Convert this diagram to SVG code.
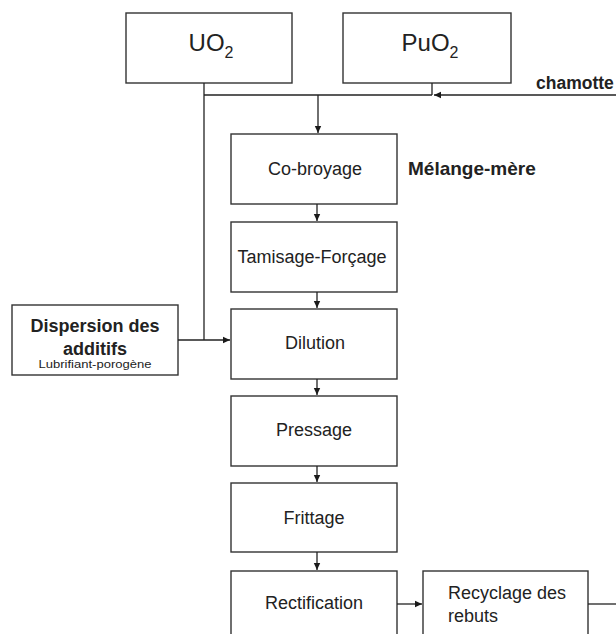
<svg xmlns="http://www.w3.org/2000/svg" width="616" height="634" viewBox="0 0 616 634">
<defs>
<marker id="ah" markerWidth="8" markerHeight="8" refX="7" refY="4" orient="auto" markerUnits="userSpaceOnUse">
<path d="M0,0.8 L7,4 L0,7.2 Z" fill="#1a1a1a"/>
</marker>
</defs>
<style>
.box{fill:#fff;stroke:#333;stroke-width:1.4}
.t{font-family:"Liberation Sans",Arial,sans-serif;fill:#222;text-anchor:middle}
.lbl{font-size:18px}
.big{font-size:24px}
.b{font-weight:bold}
.ln{fill:none;stroke:#222;stroke-width:1.3}
</style>
<rect width="616" height="634" fill="#fff"/>
<g id="uo2"><rect class="box" x="126" y="13" width="166" height="70"/><text class="t big" x="211" y="51">UO<tspan font-size="16" dy="7">2</tspan></text></g>
<g id="puo2"><rect class="box" x="343" y="13" width="168" height="70"/><text class="t big" x="430" y="51">PuO<tspan font-size="16" dy="7">2</tspan></text></g>
<g id="chamotte"><text class="t b" x="536" y="89" style="font-size:17.5px;text-anchor:start">chamotte</text></g>
<g id="melange"><text class="t b" x="408" y="175" style="font-size:19px;text-anchor:start">Mélange-mère</text></g>
<g id="cobroyage"><rect class="box" x="231" y="134" width="166" height="70"/><text class="t lbl" x="315" y="175">Co-broyage</text></g>
<g id="tamisage"><rect class="box" x="231" y="222" width="166" height="70"/><text class="t lbl" x="312" y="263">Tamisage-Forçage</text></g>
<g id="dilution"><rect class="box" x="231" y="309" width="166" height="70"/><text class="t lbl" x="315" y="349">Dilution</text></g>
<g id="pressage"><rect class="box" x="231" y="396" width="166" height="70"/><text class="t lbl" x="314" y="436">Pressage</text></g>
<g id="frittage"><rect class="box" x="231" y="483" width="166" height="69"/><text class="t lbl" x="314" y="524">Frittage</text></g>
<g id="rectification"><rect class="box" x="231" y="571" width="166" height="80"/><text class="t lbl" x="314" y="609">Rectification</text></g>
<g id="recyclage"><rect class="box" x="423" y="571" width="165" height="80"/><text class="t lbl" x="448" y="599" style="text-anchor:start">Recyclage des</text><text class="t lbl" x="448" y="622" style="text-anchor:start">rebuts</text></g>
<g id="dispersion"><rect class="box" x="12" y="305" width="166" height="70"/><text class="t b" x="95" y="332" style="font-size:18px">Dispersion des</text><text class="t b" x="95" y="355" style="font-size:18px">additifs</text><text class="t" x="95" y="368" style="font-size:11px" textLength="113" lengthAdjust="spacingAndGlyphs">Lubrifiant-porogène</text></g>
<g id="connectors">
<path class="ln" d="M204,83 V340"/>
<path class="ln" d="M432,83 V95"/>
<path class="ln" d="M204,95 H432"/>
<path class="ln" d="M616,95 H434" marker-end="url(#ah)"/>
<path class="ln" d="M318,95 V133" marker-end="url(#ah)"/>
<path class="ln" d="M317,204 V221" marker-end="url(#ah)"/>
<path class="ln" d="M317,292 V308" marker-end="url(#ah)"/>
<path class="ln" d="M178,340 H230" marker-end="url(#ah)"/>
<path class="ln" d="M317,379 V395" marker-end="url(#ah)"/>
<path class="ln" d="M317,466 V482" marker-end="url(#ah)"/>
<path class="ln" d="M317,552 V570" marker-end="url(#ah)"/>
<path class="ln" d="M397,604 H422" marker-end="url(#ah)"/>
<path class="ln" d="M588,604 H616"/>
</g>
</svg>
